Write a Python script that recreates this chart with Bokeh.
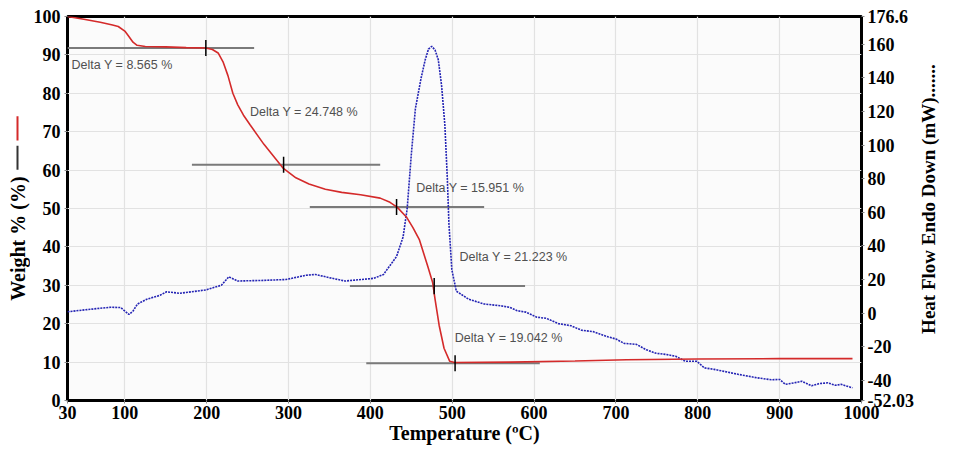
import math
from bokeh.plotting import figure
from bokeh.layouts import row
from bokeh.models import Range1d, LinearAxis, FixedTicker, CustomJSTickFormatter, Label
from bokeh.core.properties import value
from bokeh.embed import file_html
from bokeh.resources import INLINE

# ---- data ----
# TGA weight curve (weight %)
tga_temp = [30, 50, 70, 85, 92, 100, 105, 110, 115, 125, 150, 175, 199, 207, 214, 220, 226, 232,
            238, 245, 253, 270, 293, 309, 325, 345, 365, 388, 412, 424, 433, 444, 452, 460, 470,
            476, 479, 484, 490, 497, 503, 571, 650, 713, 800, 900, 989]
tga_weight = [100, 99.3, 98.5, 97.8, 97.4, 96.2, 94.8, 93.3, 92.5, 92.2, 92.1, 91.9, 91.8, 91.4,
              90.5, 88.2, 84.6, 80.0, 77.0, 74.3, 71.8, 66.7, 60.6, 58.0, 56.4, 55.0, 54.2, 53.6,
              52.7, 51.6, 50.3, 47.8, 45.0, 41.8, 35.0, 30.8, 26.4, 19.6, 13.6, 10.2, 9.9, 10.0,
              10.3, 10.6, 10.8, 10.9, 10.9]

# DSC heat flow curve (mW)
dsc_temp = [30, 60, 83, 95, 105, 110, 115.5, 127, 143, 151, 167, 199, 218, 227, 238, 270, 297, 321,
            333, 350, 369, 404, 416, 432, 440, 445, 450, 455, 462, 467, 471, 475, 479, 483, 487,
            491, 494, 496, 499.5, 505, 520, 539, 559, 570, 579, 590, 603, 615, 630, 645, 658, 672,
            690, 700, 710, 725, 737, 749, 761, 773, 785, 799, 808, 820, 832, 850, 872, 890, 900,
            907, 917, 927, 939, 948, 959, 968, 975, 989]
dsc_heat = [0.8, 2.4, 3.5, 3.3, -0.8, 1.2, 5.4, 8.3, 10.6, 12.7, 11.8, 13.8, 16.6, 21.6, 19.1, 19.5,
            20.0, 22.5, 23.0, 21.1, 19.1, 20.7, 23.0, 33.7, 45.4, 62.3, 94.3, 121.7, 140.0, 150.8,
            157.2, 158.8, 156.7, 150.8, 135.5, 112.1, 80.6, 53.1, 25.9, 13.1, 8.3, 5.4, 4.4, 3.5,
            1.5, 0.6, -2.4, -3.1, -6.3, -7.5, -10.2, -11.0, -14.1, -15.4, -18.0, -18.6, -21.8,
            -23.9, -24.6, -25.7, -28.7, -28.7, -32.6, -33.5, -34.7, -36.5, -38.5, -39.7, -39.5,
            -42.4, -41.6, -40.6, -43.3, -42.0, -41.5, -43.0, -42.4, -44.5]

# step annotations (Delta Y)
step_labels = ["Delta Y = 8.565 %", "Delta Y = 24.748 %", "Delta Y = 15.951 %",
               "Delta Y = 21.223 %", "Delta Y = 19.042 %"]
step_level = [91.8, 61.4, 50.4, 29.8, 9.7]
step_start = [30, 182, 326, 375, 395]
step_end = [258, 412, 539, 589, 607]
step_mark = [199, 294, 432, 478, 503.5]
label_x = [35, 253, 456, 509, 503]
label_y = [87.3, 75.1, 55.4, 37.5, 16.3]

x_ticks = [30, 100, 200, 300, 400, 500, 600, 700, 800, 900, 1000]
y_ticks = [0, 10, 20, 30, 40, 50, 60, 70, 80, 90, 100]
hf_ticks = [-52.03, -40, -20, 0, 20, 40, 60, 80, 100, 120, 140, 160, 176.6]

x_title = "Temperature (ºC)"
y_title = "Weight % (%)"
y2_title = "Heat Flow Endo Down (mW)......."

SERIF = "Liberation Serif"
SANS = "Liberation Sans"
RED = "#d42a2a"
H = 446
TOP = 16

p = figure(width=886, height=H, x_range=Range1d(30, 1000), y_range=Range1d(0, 100),
           output_backend="svg", toolbar_location=None,
           min_border_left=35, min_border_right=40, min_border_top=TOP, min_border_bottom=40)
p.extra_y_ranges = {"hf": Range1d(-52.03, 176.6)}

p.background_fill_color = "#fbfbfb"
p.border_fill_color = "white"
p.outline_line_color = "black"
p.outline_line_width = 3

p.xaxis.ticker = FixedTicker(ticks=x_ticks)
p.yaxis.ticker = FixedTicker(ticks=y_ticks)
p.xgrid.ticker = FixedTicker(ticks=x_ticks)
p.ygrid.ticker = FixedTicker(ticks=y_ticks)
p.xgrid.grid_line_color = "#e2e2e2"
p.ygrid.grid_line_color = "#e2e2e2"
p.xgrid.grid_line_width = 1.2
p.ygrid.grid_line_width = 1.2

ra = LinearAxis(y_range_name="hf", ticker=FixedTicker(ticks=hf_ticks),
                formatter=CustomJSTickFormatter(code="return String(tick)"))
p.add_layout(ra, "right")

p.xaxis.axis_label = x_title

for ax in [p.xaxis[0], p.yaxis[0], ra]:
    ax.axis_line_color = None
    ax.major_tick_line_color = "#888888"
    ax.major_tick_out = 3
    ax.major_tick_in = 0
    ax.minor_tick_line_color = None
    ax.major_label_text_font = SERIF
    ax.major_label_text_font_style = "bold"
    ax.major_label_text_font_size = "18px"
    ax.major_label_text_color = "black"
    ax.major_label_standoff = 4
    ax.axis_label_text_font = SERIF
    ax.axis_label_text_font_style = "bold"
    ax.axis_label_text_font_size = "20px"
    ax.axis_label_text_color = "black"
    ax.axis_label_standoff = 0
p.xaxis[0].major_label_standoff = 2
ra.major_label_standoff = 3

# step annotation lines
p.segment(x0=step_start, y0=step_level, x1=step_end, y1=step_level,
          line_color="#7a7a7a", line_width=2)

# curves
p.line(dsc_temp, dsc_heat, y_range_name="hf", line_color="#2424b4", line_width=1.6,
       line_dash="2 1")
p.line(tga_temp, tga_weight, line_color=RED, line_width=1.6)

# step markers
p.segment(x0=step_mark, y0=[v - 2.1 for v in step_level], x1=step_mark,
          y1=[v + 2.1 for v in step_level], line_color="black", line_width=1.5)

for t, lx, ly in zip(step_labels, label_x, label_y):
    p.add_layout(Label(x=lx, y=ly, text=t, text_font=SANS, text_font_size="12.5px",
                       text_color="#505050", text_baseline="middle", text_align="left"))


def strip(width):
    s = figure(width=width, height=H, x_range=Range1d(0, width), y_range=Range1d(0, H),
               output_backend="svg", toolbar_location=None,
               min_border=0, min_border_left=0, min_border_right=0,
               min_border_top=0, min_border_bottom=0)
    s.axis.visible = False
    s.grid.visible = False
    s.outline_line_color = None
    s.background_fill_color = "white"
    s.border_fill_color = "white"
    return s


# left strip: y-axis title with its legend strokes (pixel coordinates, y up)
sl = strip(30)
sl.text(x=[17], y=[H - 258], text=[y_title], angle=math.pi / 2,
        text_font=value(SERIF), text_font_style="bold", text_font_size="20px",
        text_color="black", text_align="center", text_baseline="middle")
sl.segment(x0=[17], y0=[H - 116], x1=[17], y1=[H - 144], line_color=RED, line_width=2)
sl.segment(x0=[17], y0=[H - 150], x1=[17], y1=[H - 178], line_color="#333333", line_width=2)

# right strip: secondary axis title
sr = strip(24)
sr.text(x=[12], y=[H - 212], text=[y2_title], angle=math.pi / 2,
        text_font=value(SERIF), text_font_style="bold", text_font_size="19px",
        text_color="black", text_align="center", text_baseline="middle")

layout = row(sl, p, sr)
open("out.html", "w").write(file_html(layout, INLINE))
